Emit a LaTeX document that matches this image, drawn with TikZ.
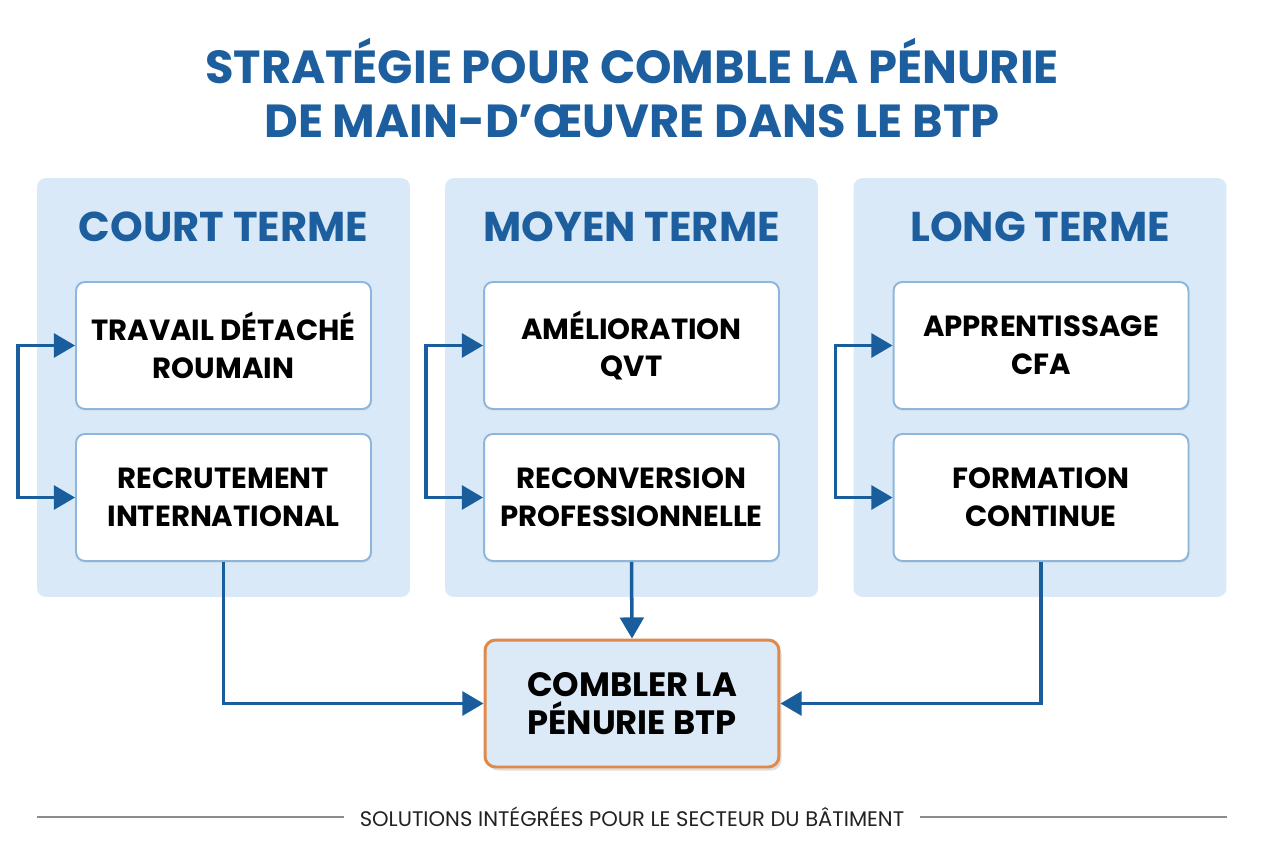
\documentclass[tikz,border=0pt]{standalone}
\usepackage{fontspec}
\setmainfont{Poppins}
\usetikzlibrary{arrows.meta,positioning,shadows}
\definecolor{titleblue}{HTML}{1D5E9E}
\definecolor{arrowblue}{HTML}{1A5D9C}
\definecolor{panelfill}{HTML}{DAE9F7}
\definecolor{boxline}{HTML}{8EB6DA}
\definecolor{goalline}{HTML}{E0894A}
\definecolor{goalfill}{HTML}{DCEAF7}
\definecolor{footgray}{HTML}{222222}

\begin{document}
\begin{tikzpicture}[
  x=0.02cm,y=-0.02cm,
  >=Latex,
  every node/.style={align=center},
  panel/.style={rectangle,rounded corners=5pt,fill=panelfill,minimum width=7.46cm,minimum height=8.38cm,inner sep=0pt},
  header/.style={font=\fontsize{23.7}{27}\bfseries\selectfont,text=titleblue},
  stepbox/.style={rectangle,rounded corners=5pt,draw=boxline,line width=1.1pt,fill=white,
    minimum width=5.9cm,minimum height=2.54cm,inner sep=0pt,
    font=\fontsize{16.6}{21.5}\bfseries\selectfont,
    drop shadow={shadow xshift=0.6pt,shadow yshift=-1pt,opacity=0.12}},
  goalbox/.style={rectangle,rounded corners=6pt,draw=goalline,line width=1.7pt,fill=goalfill,
    minimum width=5.88cm,minimum height=2.54cm,inner sep=0pt,
    font=\fontsize{19.2}{21.5}\bfseries\selectfont,
    drop shadow={shadow xshift=1.5pt,shadow yshift=-2pt,opacity=0.25}},
  flow/.style={-{Triangle[length=12pt,width=13.5pt]},line width=2pt,draw=arrowblue},
  twoway/.style={{Triangle[length=12pt,width=13.5pt]}-{Triangle[length=12pt,width=13.5pt]},line width=2pt,draw=arrowblue},
  rule/.style={line width=0.6pt,draw=black!45}
]
  \useasboundingbox (0,0) rectangle (1264,848);

  \node[font=\fontsize{26.4}{31}\bfseries\selectfont,text=titleblue] (title) at (632,88)
    {STRATÉGIE POUR COMBLE LA PÉNURIE\\DE MAIN-D’ŒUVRE DANS LE BTP};

  % three horizons
  \node[panel] (court) at (223.5,387.5) {};
  \node[panel] (moyen) at (631.5,387.5) {};
  \node[panel] (long) at (1040,387.5) {};
  \node[header] (hcourt) at (223.5,227) {COURT TERME};
  \node[header] (hmoyen) at (631.5,227) {MOYEN TERME};
  \node[header] (hlong) at (1040,227) {LONG TERME};

  \node[stepbox] (td) at (223.5,345.5) {TRAVAIL DÉTACHÉ\\ROUMAIN};
  \node[stepbox] (ri) at (223.5,497.5) {RECRUTEMENT\\INTERNATIONAL};
  \node[stepbox] (aq) at (631.5,345.5) {AMÉLIORATION\\QVT};
  \node[stepbox] (rp) at (631.5,497.5) {RECONVERSION\\PROFESSIONNELLE};
  \node[stepbox] (ac) at (1041,345.5) {APPRENTISSAGE\\CFA};
  \node[stepbox] (fc) at (1041,497.5) {FORMATION\\CONTINUE};

  \node[goalbox] (goal) at (632,703.5) {COMBLER LA\\PÉNURIE BTP};

  \draw[twoway] (td.west) -- ++(-57,0) |- (ri.west);
  \draw[twoway] (aq.west) -- ++(-57,0) |- (rp.west);
  \draw[twoway] (ac.west) -- ++(-57,0) |- (fc.west);

  \draw[flow] (ri.south) |- (goal.west);
  \draw[flow] (rp.south) -- (goal.north);
  \draw[flow] (fc.south) |- (goal.east);

  % footer
  \node[font=\fontsize{12}{14}\selectfont,text=footgray,inner xsep=9pt] (foot) at (632,817)
    {SOLUTIONS INTÉGRÉES POUR LE SECTEUR DU BÂTIMENT};
  \coordinate (rl) at (37,817);
  \coordinate (rr) at (1227,817);
  \draw[rule] (rl) -- (foot.west);
  \draw[rule] (foot.east) -- (rr);
\end{tikzpicture}
\end{document}
